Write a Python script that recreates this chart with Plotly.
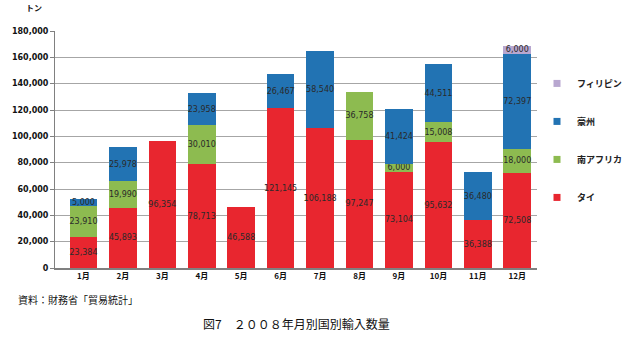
import plotly.graph_objects as go

months = ["1月", "2月", "3月", "4月", "5月", "6月", "7月", "8月", "9月", "10月", "11月", "12月"]
thai = [23384, 45893, 96354, 78713, 46588, 121145, 106188, 97247, 73104, 95632, 36388, 72508]
south_africa = [23910, 19990, None, 30010, None, None, None, 36758, 6000, 15008, None, 18000]
australia = [5000, 25978, None, 23958, None, 26467, 58540, None, 41424, 44511, 36480, 72397]
philippines = [None, None, None, None, None, None, None, None, None, None, None, 6000]
y_ticks = list(range(0, 180001, 20000))

FONT = "Noto Sans CJK JP"
series = [
    ("タイ", thai, "#E8262F"),
    ("南アフリカ", south_africa, "#8DBB50"),
    ("豪州", australia, "#2273B3"),
    ("フィリピン", philippines, "#B8A7D0"),
]

fig = go.Figure()
for name, vals, col in series:
    fig.add_trace(go.Bar(
        x=months, y=vals, name=name, showlegend=False,
        marker=dict(color=col, line=dict(width=0)),
        text=[f"{v:,}" if v else "" for v in vals],
        textposition="inside", insidetextanchor="middle",
        textangle=0,
        textfont=dict(family="DejaVu Sans", size=8, color="#2a2a2a"),
        constraintext="none",
    ))
# legend entries (small square swatches), top to bottom
for name, vals, col in reversed(series):
    fig.add_trace(go.Scatter(
        x=[months[0]], y=[None], name=name, legendgroup=name, mode="markers",
        marker=dict(symbol="square", size=7, color=col),
        hoverinfo="skip",
    ))

fig.update_layout(
    barmode="stack",
    bargap=0.3,
    width=640, height=338,
    margin=dict(l=44, r=74, t=31, b=70),
    paper_bgcolor="white", plot_bgcolor="white",
    font=dict(family=FONT, size=8, color="#222222"),
    uniformtext=dict(minsize=7, mode="show"),
    showlegend=True,
    legend=dict(
        x=1.0, y=0.84, xanchor="left", yanchor="top",
        traceorder="grouped", tracegroupgap=19,
        font=dict(family=FONT, size=9, color="#222222", weight="bold"),
        itemwidth=30, bgcolor="rgba(0,0,0,0)",
    ),
    xaxis=dict(
        showline=True, linecolor="#808080", linewidth=1.5,
        ticks="", tickfont=dict(family=FONT, size=8, color="#111111", weight="bold"),
        showgrid=False,
    ),
    yaxis=dict(
        range=[0, 180000], tickvals=y_ticks,
        ticktext=[f"{v:,}" for v in y_ticks],
        showgrid=True, gridcolor="#A6A6A6", gridwidth=1,
        showline=True, linecolor="#808080", linewidth=1,
        ticks="outside", ticklen=4, tickcolor="#808080",
        tickfont=dict(family="DejaVu Sans", size=8, color="#111111", weight="bold"),
        zeroline=False,
    ),
    annotations=[
        dict(text="<b>トン</b>", xref="paper", yref="paper", x=-0.065, y=1.0, yshift=16,
             xanchor="left", yanchor="bottom", showarrow=False,
             font=dict(family=FONT, size=8, color="#111111")),
        dict(text="資料：財務省「貿易統計」", xref="paper", yref="paper", x=-0.081, y=0, yshift=-41,
             xanchor="left", yanchor="bottom", showarrow=False,
             font=dict(family=FONT, size=10, color="#111111")),
        dict(text="図7　２００８年月別国別輸入数量", x=0.5, xref="paper", yref="paper", y=0, yshift=-66,
             xanchor="center", yanchor="bottom", showarrow=False,
             font=dict(family=FONT, size=12, color="#111111")),
    ],
)

fig.write_html("out.html")
